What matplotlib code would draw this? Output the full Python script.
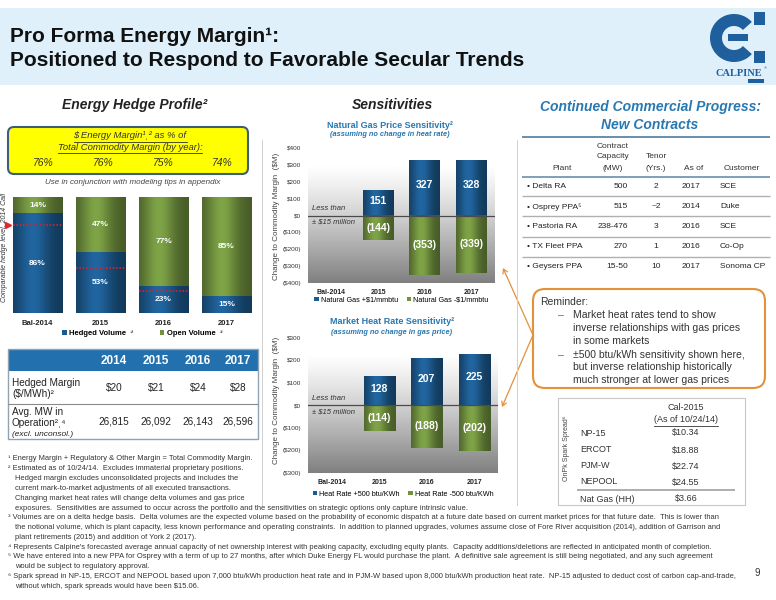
import numpy as np
import matplotlib.pyplot as plt
import matplotlib.colors as mcolors
from matplotlib.patches import Rectangle, FancyBboxPatch, Wedge, FancyArrowPatch

plt.rcParams['font.family'] = ['Liberation Sans', 'DejaVu Sans']

W, H = 776, 600

# ---- data ----
hedge_years = ['Bal-2014', '2015', '2016', '2017']
hedged_volume = [86, 53, 23, 15]
open_volume = [14, 47, 77, 85]
comparable_hedge = [76, 39, 19]
energy_margin_share = ['76%', '76%', '75%', '74%']

table_years = ['2014', '2015', '2016', '2017']
hedged_margin = ['$20', '$21', '$24', '$28']
avg_mw = ['26,815', '26,092', '26,143', '26,596']

sens_years = ['Bal-2014', '2015', '2016', '2017']
gas_up = [0, 151, 327, 328]
gas_down = [0, -144, -353, -339]
hr_up = [0, 128, 207, 225]
hr_down = [0, -114, -188, -202]

plants = ['Delta RA', 'Osprey PPA⁵', 'Pastoria RA', 'TX Fleet PPA', 'Geysers PPA']
capacity = ['500', '515', '238-476', '270', '15-50']
tenor = ['2', '~2', '3', '1', '10']
as_of = ['2017', '2014', '2016', '2016', '2017']
customer = ['SCE', 'Duke', 'SCE', 'Co-Op', 'Sonoma CP']

spread_markets = ['NP-15', 'ERCOT', 'PJM-W', 'NEPOOL']
spread_values = ['$10.34', '$18.88', '$22.74', '$24.55']
nat_gas_hh = '$3.66'

footnotes = [
    (8, '¹ Energy Margin + Regulatory & Other Margin = Total Commodity Margin.'),
    (8, '² Estimated as of 10/24/14.  Excludes immaterial proprietary positions.'),
    (15, 'Hedged margin excludes unconsolidated projects and includes the'),
    (15, 'current mark-to-market adjustments of all executed transactions.'),
    (15, 'Changing market heat rates will change delta volumes and gas price'),
    (15, 'exposures.  Sensitivities are assumed to occur across the portfolio and the sensitivities on strategic options only capture intrinsic value.'),
    (8, '³ Volumes are on a delta hedge basis.  Delta volumes are the expected volume based on the probability of economic dispatch at a future date based on current market prices for that future date.  This is lower than'),
    (15, 'the notional volume, which is plant capacity, less known performance and operating constraints.  In addition to planned upgrades, volumes assume close of Fore River acquisition (2014), addition of Garrison and'),
    (15, 'plant retirements (2015) and addition of York 2 (2017).'),
    (8, '⁴ Represents Calpine\'s forecasted average annual capacity of net ownership interest with peaking capacity, excluding equity plants.  Capacity additions/deletions are reflected in anticipated month of completion.'),
    (8, '⁵ We have entered into a new PPA for Osprey with a term of up to 27 months, after which Duke Energy FL would purchase the plant.  A definitive sale agreement is still being negotiated, and any such agreement'),
    (15, 'would be subject to regulatory approval.'),
    (8, '⁶ Spark spread in NP-15, ERCOT and NEPOOL based upon 7,000 btu/kWh production heat rate and in PJM-W based upon 8,000 btu/kWh production heat rate.  NP-15 adjusted to deduct cost of carbon cap-and-trade,'),
    (15, 'without which, spark spreads would have been $15.06.'),
]

# ---- colours ----
TEXT = '#222222'
HEADER_BG = '#dff0fa'
BLUE = '#1d5b8f'
GREEN = '#71923f'
HDR_BLUE = '#2271ae'
TITLE_BLUE = '#2878b2'
LOGO_BLUE = '#1f5f9e'
ORANGE = '#e3913b'
GRID = '#a9a9a9'

fig = plt.figure(figsize=(W / 100, H / 100), dpi=100)
bg = fig.add_axes([0, 0, 1, 1])
bg.set_xlim(0, W)
bg.set_ylim(H, 0)
bg.set_autoscale_on(False)
bg.axis('off')


def put(x, y, s, size=7, color=TEXT, ha='left', va='center', **kw):
    return bg.text(x, y, s, fontsize=size, color=color, ha=ha, va=va, **kw)


def hline(x0, x1, y, color=GRID, lw=0.8):
    bg.plot([x0, x1], [y, y], color=color, lw=lw, solid_capstyle='butt')


def axes_px(x0, y0, x1, y1):
    return fig.add_axes([x0 / W, 1 - y1 / H, (x1 - x0) / W, (y1 - y0) / H])


def underline(t, lw=0.6, gap=1.0):
    r = fig.canvas.get_renderer()
    bb = t.get_window_extent(r)
    y = H - bb.y0 + gap
    bg.plot([bb.x0, bb.x1], [y, y], color=t.get_color(), lw=lw)


def shade_bars(ax, bars, color):
    base = np.array(mcolors.to_rgb(color))
    t = np.linspace(0, 1, 80)
    prof = 0.62 + 0.5 * np.exp(-((t - 0.4) / 0.32) ** 2)
    img = np.clip(base[None, None, :] * prof[None, :, None], 0, 1)
    for p in bars:
        h = p.get_height()
        if h == 0:
            continue
        x0, y0 = p.get_xy()
        im = ax.imshow(img, extent=[x0, x0 + p.get_width(), y0, y0 + h],
                       aspect='auto', interpolation='bilinear', zorder=3)
        im.set_clip_path(p)


# ---- header band & title ----
bg.add_patch(Rectangle((0, 8), W, 77, color=HEADER_BG, lw=0))
put(10, 36, 'Pro Forma Energy Margin¹:', size=15, weight='bold', color='#111111')
put(10, 60, 'Positioned to Respond to Favorable Secular Trends', size=15,
    weight='bold', color='#111111')

# logo
bg.add_patch(Wedge((734, 38), 24, 42, 318, width=12, color=LOGO_BLUE, lw=0))
bg.add_patch(Rectangle((728, 34), 20, 7, color=LOGO_BLUE, lw=0))
bg.add_patch(Rectangle((754, 12), 11, 13, color=LOGO_BLUE, lw=0))
bg.add_patch(Rectangle((754, 51), 11, 12, color=LOGO_BLUE, lw=0))
put(739, 73, 'CALPINE', size=7.5, weight='bold', color=LOGO_BLUE,
    ha='center', family='Liberation Serif')
put(764, 68, '®', size=3, color=LOGO_BLUE, ha='left')
bg.add_patch(Rectangle((748, 79), 16, 4, color=LOGO_BLUE, lw=0))

# ---- section headings ----
put(135, 105, 'Energy Hedge Profile²', size=10, weight='bold', style='italic', ha='center')
put(392, 105, 'Sensitivities', size=10, weight='bold', style='italic', ha='center')
put(650, 107, 'Continued Commercial Progress:', size=10, weight='bold', style='italic',
    ha='center', color=TITLE_BLUE)
put(650, 125, 'New Contracts', size=10, weight='bold', style='italic',
    ha='center', color=TITLE_BLUE)
hline(522, 770, 137, color='#5b86a6', lw=1.3)

# panel separators
bg.plot([262, 262], [140, 505], color='#cfcfcf', lw=0.7)
bg.plot([517, 517], [140, 505], color='#cfcfcf', lw=0.7)

# ---- yellow box ----
bg.add_patch(FancyBboxPatch((8, 127), 240, 47, boxstyle='round,pad=0,rounding_size=6',
                            fc='#ffff00', ec='#3e5d78', lw=1.5))
t1 = put(130, 136, '$ Energy Margin¹ˌ² as % of', size=6.8, style='italic',
         ha='center', color='#333333')
t2 = put(130, 147, 'Total Commodity Margin (by year):', size=6.8, style='italic',
         ha='center', color='#333333')
for x, s in zip([43, 103, 163, 222], energy_margin_share):
    put(x, 163, s, size=7.5, style='italic', ha='center', color='#333333')
put(133, 182, 'Use in conjunction with modeling tips in appendix', size=5.8,
    style='italic', ha='center', color='#444444')

# ---- hedge profile chart ----
ax = axes_px(6, 197, 258, 313)
ax.patch.set_alpha(0)
xs = np.arange(len(hedge_years))
b1 = ax.bar(xs, hedged_volume, 0.78, color=BLUE, lw=0, label='Hedged Volume  ³', zorder=2)
b2 = ax.bar(xs, open_volume, 0.78, bottom=hedged_volume, color=GREEN, lw=0,
            label='Open Volume  ³', zorder=2)
shade_bars(ax, b1, BLUE)
shade_bars(ax, b2, GREEN)
for i in range(len(xs)):
    ax.text(i, hedged_volume[i] / 2, f'{hedged_volume[i]}%', color='white', ha='center',
            va='center', fontsize=6, weight='bold', zorder=6)
    ax.text(i, hedged_volume[i] + open_volume[i] / 2, f'{open_volume[i]}%', color='white',
            ha='center', va='center', fontsize=6, weight='bold', zorder=6)
for i, v in enumerate(comparable_hedge):
    ax.hlines(v, i - 0.39, i + 0.39, colors='#d8202a', linestyles=(0, (1, 1)), lw=1.2, zorder=5)
ax.plot(-0.47, comparable_hedge[0], marker='>', ms=4.5, color='#e3262c', clip_on=False, zorder=6)
ax.set_xlim(-0.5, 3.5)
ax.set_ylim(0, 100)
ax.set_xticks(xs)
ax.set_xticklabels(hedge_years, fontsize=5.5, weight='bold', color=TEXT)
ax.tick_params(axis='x', length=0, pad=5)
ax.set_yticks([])
for s in ax.spines.values():
    s.set_visible(False)
ax.legend(loc='center', bbox_to_anchor=(0.54, -0.175), ncol=2, frameon=False,
          prop={'size': 5.5, 'weight': 'bold'}, handlelength=0.6, handleheight=0.6,
          handletextpad=0.3, columnspacing=3.5)
put(5, 248, 'Comparable hedge level, 2014 Call', size=5, style='italic', rotation=90,
    ha='center', color='#333333')

# ---- bottom-left table ----
bg.add_patch(Rectangle((8, 349), 250, 22, color=HDR_BLUE, lw=0))
bg.add_patch(Rectangle((8, 349), 250, 90, fc='none', ec='#8fa3b3', lw=1))
hline(8, 258, 404, color='#8a8a8a', lw=0.8)
col_x = [114, 156, 198, 238]
for x, yr in zip(col_x, table_years):
    put(x, 361, yr, size=8.5, weight='bold', color='white', ha='center')
put(12, 383, 'Hedged Margin', size=7.2)
put(12, 394, '($/MWh)²', size=7.2)
put(12, 412, 'Avg. MW in', size=7.2)
put(12, 423, 'Operation²ˌ⁴', size=7.2)
put(12, 434, '(excl. unconsol.)', size=6, style='italic')
for x, a, b in zip(col_x, hedged_margin, avg_mw):
    put(x, 388, a, size=7.2, ha='center')
    put(x, 422, b, size=7.2, ha='center')

# ---- sensitivity charts ----
def sens_chart(rect, ylim, up, down, leg_labels, leg_y):
    a = axes_px(*rect)
    a.patch.set_alpha(0)
    n = 200
    tt = np.linspace(0, 1, n)
    shade = 1 - 0.5 * np.clip((tt - 0.12) / 0.88, 0, 1) ** 1.2
    a.imshow(shade[:, None], extent=[-0.5, 3.5, -ylim, ylim], aspect='auto', cmap='gray',
             vmin=0, vmax=1, zorder=0)
    x = np.arange(len(sens_years))
    bu = a.bar(x[1:], up[1:], 0.66, color=BLUE, lw=0, zorder=2, label=leg_labels[0])
    bd = a.bar(x[1:], down[1:], 0.66, color=GREEN, lw=0, zorder=2, label=leg_labels[1])
    shade_bars(a, bu, BLUE)
    shade_bars(a, bd, GREEN)
    for i in x[1:]:
        a.text(i, up[i] * 0.55, f'{up[i]}', color='white', ha='center', va='center',
               fontsize=7.5, weight='bold', zorder=6)
        a.text(i, down[i] * 0.5, f'({-down[i]})', color='white', ha='center', va='center',
               fontsize=7.5, weight='bold', zorder=6)
    a.axhline(0, color='#4a4a4a', lw=0.9, zorder=4)
    a.annotate('Less than', (-0.42, 0), xytext=(0, 2.5), textcoords='offset points',
               fontsize=5.5, style='italic', color='#333333', va='bottom', zorder=6)
    a.annotate('± $15 million', (-0.42, 0), xytext=(0, -2.5), textcoords='offset points',
               fontsize=5.5, style='italic', color='#333333', va='top', zorder=6)
    a.set_xlim(-0.5, 3.5)
    a.set_ylim(-ylim, ylim)
    a.set_xticks(x)
    a.set_xticklabels(sens_years, fontsize=5, weight='bold', color=TEXT)
    ticks = np.arange(-ylim, ylim + 1, 100)
    a.set_yticks(ticks)
    a.set_yticklabels([f'${t}' if t >= 0 else f'(${-t})' for t in ticks], fontsize=4.6,
                      color='#333333')
    a.tick_params(length=0)
    a.tick_params(axis='x', pad=4)
    a.tick_params(axis='y', pad=5)
    for s in a.spines.values():
        s.set_visible(False)
    h = rect[3] - rect[1]
    a.legend(loc='center', bbox_to_anchor=(0.5, -(leg_y - rect[3]) / h), ncol=2,
             frameon=False, prop={'size': 5.2}, handlelength=0.6, handleheight=0.6,
             handletextpad=0.3, columnspacing=1.2)
    return a


put(390, 125, 'Natural Gas Price Sensitivity²', size=6.5, weight='bold', ha='center',
    color=TITLE_BLUE)
put(390, 134, '(assuming no change in heat rate)', size=5.3, weight='bold', style='italic',
    ha='center', color=TITLE_BLUE)
sens_chart((308, 148, 495, 283), 400, gas_up, gas_down,
           ['Natural Gas +$1/mmbtu', 'Natural Gas -$1/mmbtu'], 300)
put(277, 216, 'Change to Commodity Margin  ($M)', size=5.8, rotation=90, ha='center',
    color='#444444')

put(392, 321, 'Market Heat Rate Sensitivity²', size=6.5, weight='bold', ha='center',
    color=TITLE_BLUE)
put(392, 332, '(assuming no change in gas price)', size=5.3, weight='bold', style='italic',
    ha='center', color=TITLE_BLUE)
sens_chart((308, 337, 498, 473), 300, hr_up, hr_down,
           ['Heat Rate +500 btu/KWh', 'Heat Rate -500 btu/KWh'], 494)
put(277, 400, 'Change to Commodity Margin  ($M)', size=5.8, rotation=90, ha='center',
    color='#444444')

# ---- contracts table ----
hdr_y = [147, 157, 168]
put(613, hdr_y[0], 'Contract', size=6, ha='center', color='#333333')
put(613, hdr_y[1], 'Capacity', size=6, ha='center', color='#333333')
put(613, hdr_y[2], '(MW)', size=6, ha='center', color='#333333')
put(656, hdr_y[1], 'Tenor', size=6, ha='center', color='#333333')
put(656, hdr_y[2], '(Yrs.)', size=6, ha='center', color='#333333')
put(562, hdr_y[2], 'Plant', size=6, ha='center', color='#333333')
put(694, hdr_y[2], 'As of', size=6, ha='center', color='#333333')
put(742, hdr_y[2], 'Customer', size=6, ha='center', color='#333333')
hline(522, 770, 177, color='#5b86a6', lw=1.1)
row_y = [187, 207, 227, 247, 267]
for y0 in [196, 216, 237, 257]:
    hline(522, 770, y0, color='#b0b0b0', lw=1.0)
for y, p, c, t, a, cu in zip(row_y, plants, capacity, tenor, as_of, customer):
    put(527, y, '• ' + p, size=6)
    put(628, y, c, size=6, ha='right')
    put(656, y, t, size=6, ha='center')
    put(691, y, a, size=6, ha='center')
    put(720, y, cu, size=6)

# ---- reminder callout ----
bg.add_patch(FancyBboxPatch((533, 289), 232, 99, boxstyle='round,pad=0,rounding_size=12',
                            fc='white', ec=ORANGE, lw=1.5))
for end in [(503, 268), (502, 407)]:
    bg.add_patch(FancyArrowPatch((533, 335), end, arrowstyle='->,head_length=3,head_width=1.8',
                                 color=ORANGE, lw=0.9, shrinkA=0, shrinkB=0))
put(540, 302, 'Reminder:', size=7.5, color='#333333')
rem_lines = ['Market heat rates tend to show', 'inverse relationships with gas prices',
             'in some markets', '±500 btu/kWh sensitivity shown here,',
             'but inverse relationship historically', 'much stronger at lower gas prices']
for k, (y, s) in enumerate(zip([315, 328, 341, 355, 367, 380], rem_lines)):
    if k in (0, 3):
        put(561, y, '–', size=7.5, color=TITLE_BLUE, ha='center')
    put(573, y, s, size=7.5, color='#333333')

# ---- spark spread table ----
bg.add_patch(Rectangle((558, 398), 187, 107, fc='white', ec='#c8c8c8', lw=0.8))
put(686, 408, 'Cal-2015', size=6.5, ha='center', color='#333333')
t3 = put(686, 420, '(As of 10/24/14)', size=6.5, ha='center', color='#333333')
for y, m, v in zip([433, 450, 466, 482], spread_markets, spread_values):
    put(580, y, m, size=6.5, color='#333333')
    put(686, y, v, size=6.5, ha='center', color='#333333')
hline(577, 735, 490, color='#a0a0a0', lw=1.2)
put(580, 499, 'Nat Gas (HH)', size=6.5, color='#333333')
put(686, 499, nat_gas_hh, size=6.5, ha='center', color='#333333')
put(567, 448, 'OnPk Spark Spread⁶', size=5, rotation=90, ha='center', color='#444444')

# ---- footnotes ----
for k, (x, s) in enumerate(footnotes):
    put(x, 459 + k * 9.8, s, size=5.4, color='#333333')
put(757, 573, '9', size=7, ha='center', color='#333333')

fig.canvas.draw()
for t in (t1, t2, t3):
    underline(t)

fig.savefig('out.png', dpi=100)
